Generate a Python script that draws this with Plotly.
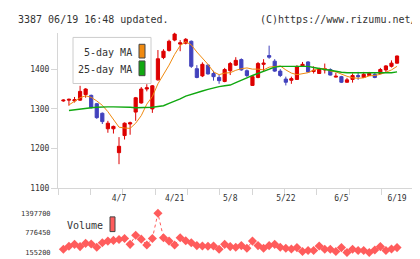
import plotly.graph_objects as go

dates = ["3/24","3/25","3/26","3/27","3/28","3/31","4/1","4/2","4/3","4/4",
         "4/7","4/8","4/9","4/10","4/11","4/14","4/15","4/16","4/17","4/18",
         "4/21","4/22","4/23","4/24","4/25","4/28","4/30","5/1","5/2","5/7",
         "5/8","5/9","5/12","5/13","5/14","5/15","5/16","5/19","5/20","5/21",
         "5/22","5/23","5/26","5/27","5/28","5/29","5/30","6/2","6/3","6/4",
         "6/5","6/6","6/9","6/10","6/11","6/12","6/13","6/16","6/17","6/18",
         "6/19"]

opens = [1320,1322,1320,1322,1336,1334,1313,1289,1250,1250,
         1190,1233,1262,1292,1315,1350,1300,1373,1429,1447,
         1473,1463,1465,1470,1401,1383,1410,1389,1379,1369,
         1396,1410,1424,1396,1359,1379,1412,1434,1420,1395,
         1375,1372,1374,1408,1418,1394,1389,1398,1399,1380,
         1381,1367,1374,1384,1379,1384,1387,1389,1398,1407,
         1415]
highs = [1324,1326,1330,1358,1352,1336,1315,1291,1270,1258,
         1229,1266,1268,1330,1355,1362,1360,1448,1450,1474,
         1492,1473,1478,1472,1410,1417,1412,1396,1385,1403,
         1418,1430,1427,1399,1385,1418,1425,1459,1425,1400,
         1381,1381,1410,1418,1420,1407,1403,1414,1402,1391,
         1383,1378,1389,1393,1393,1393,1391,1403,1410,1422,
         1434]
lows = [1318,1308,1316,1320,1328,1301,1275,1262,1240,1238,
        1161,1223,1235,1270,1313,1344,1290,1371,1425,1444,
        1470,1445,1462,1403,1377,1380,1386,1371,1363,1367,
        1385,1408,1396,1380,1358,1377,1393,1426,1393,1380,
        1359,1363,1373,1406,1392,1389,1388,1389,1384,1379,
        1365,1366,1366,1373,1378,1383,1377,1387,1392,1404,
        1414]
closes = [1322,1324,1323,1344,1350,1303,1278,1268,1264,1256,
          1206,1264,1265,1328,1350,1353,1358,1426,1445,1470,
          1488,1466,1475,1407,1379,1412,1388,1381,1371,1399,
          1414,1422,1398,1384,1381,1414,1415,1430,1395,1384,
          1367,1376,1406,1412,1393,1397,1400,1401,1385,1382,
          1367,1373,1384,1381,1387,1389,1379,1399,1408,1415,
          1433]

ma5 = [None,1310,1318,1328,1333,1329,1320,1309,1293,1274,
       1254,1252,1251,1264,1283,1312,1331,1363,1386,1410,
       1437,1459,1469,1461,1443,1428,1412,1393,1386,1390,
       1391,1397,1401,1403,1400,1400,1398,1405,1407,1408,
       1398,1390,1386,1389,1391,1397,1402,1401,1395,1393,
       1387,1382,1378,1377,1378,1383,1384,1387,1392,1398,
       1407]
ma25 = [None,1296,1298,1300,1302,1303,1304,1305,1305,1305,
        1305,1304,1304,1303,1303,1303,1304,1306,1308,1314,
        1319,1325,1332,1337,1341,1345,1349,1353,1356,1358,
        1360,1366,1373,1378,1384,1389,1395,1400,1405,1407,
        1407,1407,1407,1408,1407,1404,1401,1399,1397,1394,
        1392,1391,1391,1392,1392,1391,1391,1391,1391,1391,
        1393]

volumes = [257700,350900,413000,341600,444100,422300,319800,465800,515500,537300,
           568300,599400,413000,701900,577600,391300,599400,1397700,621100,515500,
           391300,621100,527900,465800,372600,360200,350900,360200,257700,413000,
           341600,319800,372600,288800,515500,372600,288800,372600,413000,319800,
           288800,267000,310500,186300,217300,217300,360200,257700,257700,186300,
           310500,155200,257700,217300,217300,155200,236000,341600,217300,267000,
           310500]

date_labels = ["4/7","4/21","5/8","5/22","6/5","6/19"]
price_ticks = [1100,1200,1300,1400]
vol_ticks = [155200,776450,1397700]
vol_tick_text = ["155200","776450","1397700"]

x = list(range(len(dates)))
label_pos = [dates.index(d) for d in date_labels]

W, H = 420, 259
def px(v): return v / W
def py(v): return 1 - v / H

RED = "#dd0000"
BLUE = "#4242bd"
ORANGE = "#f08a10"
GREEN = "#10a810"
VOLC = "#ff5c5c"
AX = "#d6d6d6"
TXT = "#333333"
MONO = "DejaVu Sans Mono"

fig = go.Figure()
fig.add_trace(go.Candlestick(
    x=x, open=opens, high=highs, low=lows, close=closes,
    increasing=dict(line=dict(color=RED, width=1), fillcolor=RED),
    decreasing=dict(line=dict(color=BLUE, width=1), fillcolor=BLUE),
    whiskerwidth=0, showlegend=False, xaxis="x", yaxis="y"))
fig.add_trace(go.Scatter(x=x, y=ma5, mode="lines",
    line=dict(color=ORANGE, width=1), showlegend=False, xaxis="x", yaxis="y"))
fig.add_trace(go.Scatter(x=x, y=ma25, mode="lines",
    line=dict(color=GREEN, width=1.4), showlegend=False, xaxis="x", yaxis="y"))
fig.add_trace(go.Scatter(x=x, y=volumes, mode="lines+markers",
    line=dict(color=VOLC, width=1, dash="dot"),
    marker=dict(symbol="diamond", size=7, color=VOLC),
    showlegend=False, xaxis="x2", yaxis="y2"))

xr = [-0.97, 63.05]
xdom = [px(50), px(406)]

fig.update_layout(
    width=W, height=H, margin=dict(l=0, r=0, t=0, b=0),
    paper_bgcolor="white", plot_bgcolor="white",
    boxgap=0.18,
    xaxis=dict(domain=xdom, range=xr, anchor="y",
               rangeslider=dict(visible=False),
               showline=True, linecolor=AX, linewidth=1,
               tickmode="array", tickvals=label_pos, ticktext=date_labels,
               ticks="outside", ticklen=2, tickcolor="rgba(0,0,0,0)",
               tickfont=dict(family=MONO, size=8, color=TXT),
               minor=dict(tickmode="linear", tick0=xr[0], dtick=(xr[1]-xr[0])/11,
                          ticks="outside", ticklen=6, tickcolor=AX, showgrid=False),
               showgrid=False, zeroline=False),
    yaxis=dict(domain=[py(184), py(25)], range=[1100, 1492], anchor="x",
               showline=True, linecolor=AX, linewidth=1,
               tickmode="array", tickvals=price_ticks,
               ticks="outside", ticklen=6, tickcolor=AX,
               tickfont=dict(family=MONO, size=8, color=TXT),
               showgrid=False, zeroline=False),
    xaxis2=dict(domain=xdom, range=xr, anchor="y2", visible=False),
    yaxis2=dict(domain=[py(254), py(204)], range=[9200, 1562330], anchor="x2",
                showline=False, tickmode="array", tickvals=vol_ticks, ticktext=vol_tick_text,
                ticks="outside", ticklen=5, tickcolor="rgba(0,0,0,0)",
                tickfont=dict(family=MONO, size=7, color=TXT),
                showgrid=False, zeroline=False),
)

shapes = [
    dict(type="rect", xref="paper", yref="paper", x0=px(65), x1=px(143), y0=py(77), y1=py(30),
         line=dict(color="#cccccc", width=1), fillcolor="white", layer="above"),
    dict(type="rect", xref="paper", yref="paper", x0=px(131), x1=px(137), y0=py(51), y1=py(37),
         line=dict(color="#444444", width=1), fillcolor=ORANGE, layer="above"),
    dict(type="rect", xref="paper", yref="paper", x0=px(131), x1=px(137), y0=py(69), y1=py(54),
         line=dict(color="#444444", width=1), fillcolor=GREEN, layer="above"),
    dict(type="rect", xref="paper", yref="paper", x0=px(102), x1=px(107), y0=py(228), y1=py(213),
         line=dict(color="#444444", width=1), fillcolor=VOLC, layer="above"),
]
annotations = [
    dict(text="3387 06/19 16:48 updated.", x=px(8), y=py(12), xanchor="left", yanchor="middle"),
    dict(text="(C)https://www.rizumu.net/", x=px(411), y=py(12), xanchor="right", yanchor="middle"),
    dict(text="5-day MA", x=px(126), y=py(45.5), xanchor="right", yanchor="middle"),
    dict(text="25-day MA", x=px(126), y=py(63), xanchor="right", yanchor="middle"),
    dict(text="Volume", x=px(57), y=py(222), xanchor="left", yanchor="middle"),
]
for a in annotations:
    a.update(xref="paper", yref="paper", showarrow=False,
             font=dict(family=MONO, size=10, color=TXT))
fig.update_layout(shapes=shapes, annotations=annotations)

fig.write_html("out.html")
